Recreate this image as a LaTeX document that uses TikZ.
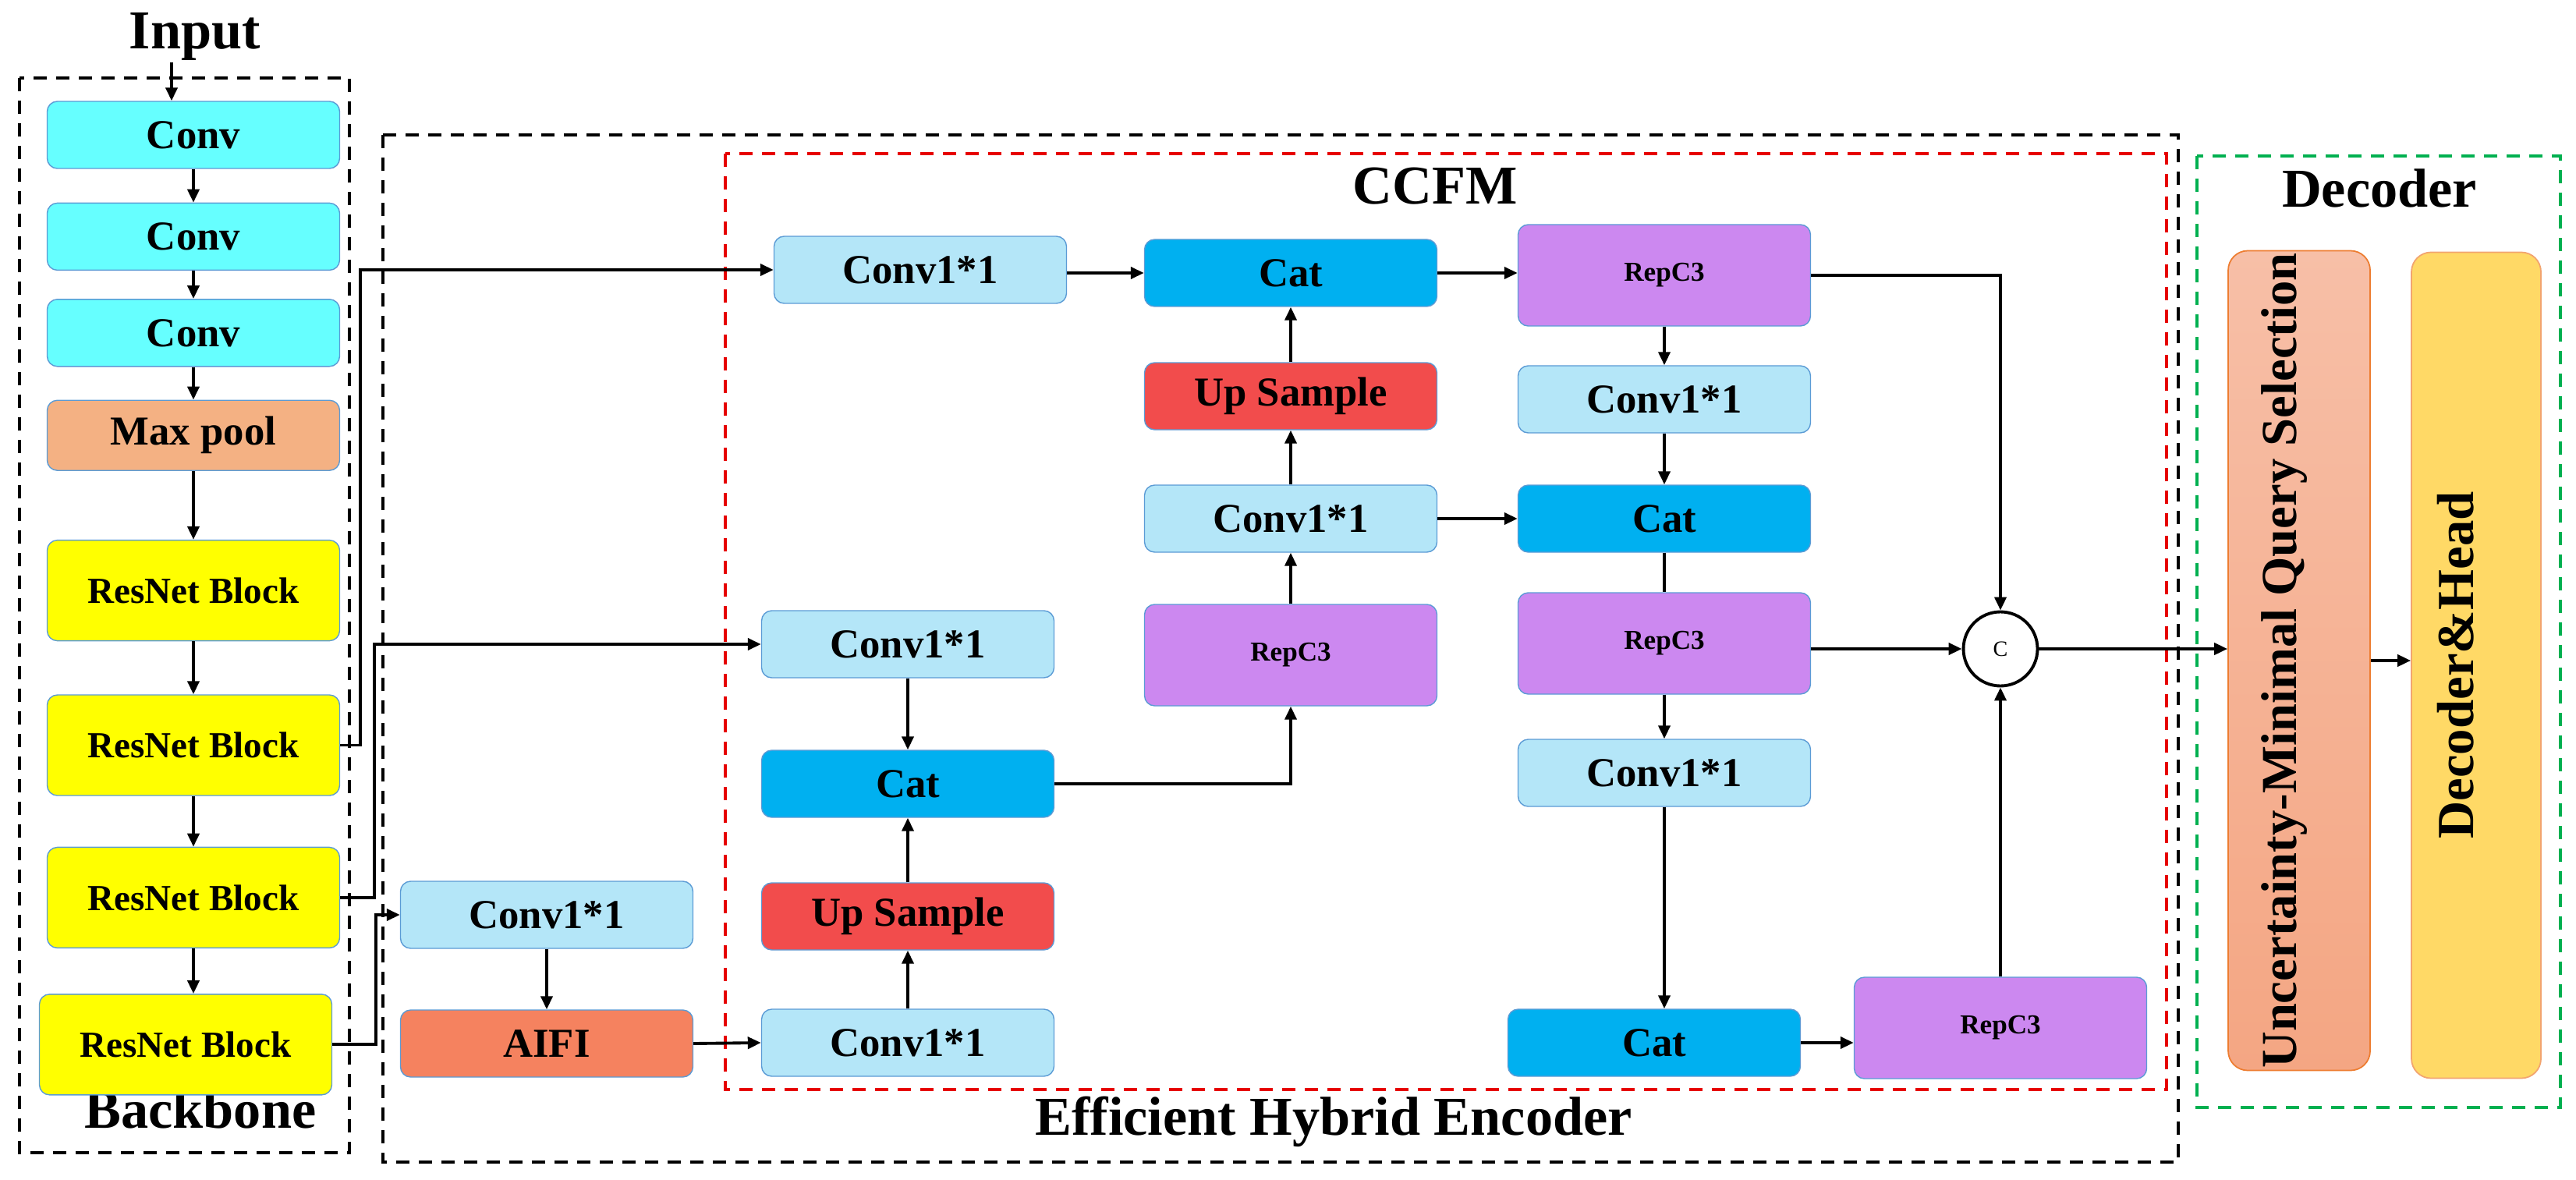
\documentclass[tikz,border=0pt]{standalone}
\usepackage{fontspec}
\setmainfont{Liberation Serif}
\usepackage{graphicx}
\usetikzlibrary{arrows.meta,positioning,calc}
\definecolor{ConvCyan}{RGB}{102,255,255}
\definecolor{PoolOrange}{RGB}{244,177,131}
\definecolor{ResYellow}{RGB}{255,255,0}
\definecolor{OneBlue}{RGB}{180,230,248}
\definecolor{CatBlue}{RGB}{0,176,240}
\definecolor{UpRed}{RGB}{242,76,76}
\definecolor{RepPurple}{RGB}{204,136,240}
\definecolor{AifiOrange}{RGB}{245,130,95}
\definecolor{EdgeBlue}{RGB}{91,155,213}
\definecolor{EdgeOrange}{RGB}{237,125,49}
\definecolor{UqTop}{RGB}{247,191,167}
\definecolor{UqBot}{RGB}{244,166,131}
\definecolor{DhGold}{RGB}{255,217,102}
\definecolor{DashRed}{RGB}{230,0,0}
\definecolor{DashGreen}{RGB}{0,176,80}
\newcommand{\uptext}[1]{\rotatebox{90}{\raisebox{0.4mm}[0pt][0pt]{#1}}}
\tikzset{
  blk/.style={draw=EdgeBlue,line width=0.4pt,rounded corners=0.13cm,minimum width=3.75cm,
    minimum height=0.86cm,inner sep=0pt,align=center,font=\bfseries\fontsize{15}{18}\selectfont},
  convbox/.style={blk,fill=ConvCyan},
  poolbox/.style={blk,fill=PoolOrange,minimum height=0.9cm},
  resbox/.style={blk,fill=ResYellow,minimum height=1.29cm,font=\bfseries\fontsize{13.4}{16}\selectfont},
  onebox/.style={blk,fill=OneBlue},
  catbox/.style={blk,fill=CatBlue},
  upbox/.style={blk,fill=UpRed},
  aifibox/.style={blk,fill=AifiOrange},
  repbox/.style={blk,fill=RepPurple,minimum height=1.3cm,font=\bfseries\fontsize{10}{12}\selectfont},
  uqbox/.style={draw=EdgeOrange,line width=0.5pt,rounded corners=0.25cm,top color=UqTop,
    bottom color=UqBot,minimum width=1.82cm,minimum height=10.51cm,inner sep=0pt,
    font=\bfseries\fontsize{18.4}{22}\selectfont},
  dhbox/.style={draw=EdgeOrange!70,line width=0.5pt,rounded corners=0.25cm,fill=DhGold,
    minimum width=1.66cm,minimum height=10.59cm,inner sep=0pt,
    font=\bfseries\fontsize{19}{22}\selectfont},
  sumnode/.style={draw,circle,line width=1.1pt,minimum size=0.95cm,inner sep=0pt,
    font=\fontsize{8}{9}\selectfont},
  heading/.style={font=\bfseries\fontsize{20}{24}\selectfont,anchor=base,inner sep=0pt},
  grpbox/.style={line width=1.1pt,dash pattern=on 0.17cm off 0.12cm},
  arrow/.style={-{Triangle[length=0.17cm,width=0.15cm]},line width=1.1pt},
  plainline/.style={line width=1.1pt}
}
\begin{document}
\begin{tikzpicture}
  \useasboundingbox (0,0) rectangle (33.03,-15.13);
  % dashed group frames
  \draw[grpbox] (0.25,-1.00) rectangle (4.48,-14.78);
  \draw[grpbox] (4.91,-1.73) rectangle (27.93,-14.90);
  \draw[grpbox,draw=DashRed] (9.30,-1.97) rectangle (27.78,-13.97);
  \draw[grpbox,draw=DashGreen,line width=1.3pt] (28.17,-2.00) rectangle (32.83,-14.20);

  % titles
  \node[heading] (tin) at (2.50,-0.63) {Input};
  \node[heading] (tbb) at (2.57,-14.46) {Backbone};
  \node[heading] (tcc) at (18.40,-2.62) {CCFM};
  \node[heading] (teh) at (17.10,-14.55) {Efficient Hybrid Encoder};
  \node[heading] (tde) at (30.51,-2.66) {Decoder};

  % backbone
  \node[convbox] (cv1) at (2.48,-1.73) {Conv};
  \node[convbox,below=0.43cm of cv1] (cv2) {Conv};
  \node[convbox,below=0.36cm of cv2] (cv3) {Conv};
  \node[poolbox,below=0.42cm of cv3] (mp) {Max pool};
  \node[resbox,below=0.88cm of mp] (rb1) {ResNet Block};
  \node[resbox,below=0.68cm of rb1] (rb2) {ResNet Block};
  \node[resbox,below=0.65cm of rb2] (rb3) {ResNet Block};
  \node[resbox,below=0.58cm of rb3,xshift=-1mm] (rb4) {ResNet Block};

  % encoder
  \node[onebox] (la) at (7.01,-11.73) {Conv1*1};
  \node[aifibox] (lb) at (7.01,-13.38) {AIFI};
  \node[onebox] (a1) at (11.80,-3.46) {Conv1*1};
  \node[onebox] (b1) at (11.64,-8.26) {Conv1*1};
  \node[catbox] (b2) at (11.64,-10.05) {Cat};
  \node[upbox] (b3) at (11.64,-11.75) {Up Sample};
  \node[onebox] (b4) at (11.64,-13.37) {Conv1*1};
  \node[catbox] (c1) at (16.55,-3.50) {Cat};
  \node[upbox] (c2) at (16.55,-5.08) {Up Sample};
  \node[onebox] (c3) at (16.55,-6.65) {Conv1*1};
  \node[repbox] (c4) at (16.55,-8.40) {RepC3};
  \node[repbox] (d1) at (21.34,-3.53) {RepC3};
  \node[onebox] (d2) at (21.34,-5.12) {Conv1*1};
  \node[catbox] (d3) at (21.34,-6.65) {Cat};
  \node[repbox] (d4) at (21.34,-8.25) {RepC3};
  \node[onebox] (d5) at (21.34,-9.91) {Conv1*1};
  \node[catbox] (d6) at (21.21,-13.37) {Cat};
  \node[repbox] (e1) at (25.65,-13.18) {RepC3};
  \node[sumnode] (cc) at (25.65,-8.32) {C};

  % decoder
  \node[uqbox] (uq) at (29.48,-8.47) {\uptext{Uncertainty-Minimal Query Selection}};
  \node[dhbox] (dh) at (31.75,-8.53) {\uptext{Decoder\&Head}};

  % backbone arrows
  \coordinate (inp) at (2.20,-0.80);
  \draw[arrow] (inp) -- (inp |- cv1.north);
  \foreach \a/\b in {cv1/cv2,cv2/cv3,cv3/mp,mp/rb1,rb1/rb2,rb2/rb3,rb3/rb4}
    \draw[arrow] (\a.south) -- (\a.south |- \b.north);

  % backbone to encoder
  \draw[arrow] (rb2.east) -- ++(0.26,0) |- (a1.west);
  \draw[arrow] (rb3.east) -- ++(0.44,0) |- (b1.west);
  \draw[arrow] (rb4.east) -- ++(0.56,0) |- (la.west);

  % encoder arrows
  \draw[arrow] (la.south) -- (lb.north);
  \draw[arrow] (lb.east) -- (b4.west);
  \draw[arrow] (b4.north) -- (b3.south);
  \draw[arrow] (b3.north) -- (b2.south);
  \draw[arrow] (b1.south) -- (b2.north);
  \draw[arrow] (b2.east) -| (c4.south);
  \foreach \a/\b in {c4/c3,c3/c2,c2/c1}
    \draw[arrow] (\a.north) -- (\b.south);
  \draw[arrow] (a1.east |- c1.west) -- (c1.west);
  \draw[arrow] (c1.east) -- (c1.east -| d1.west);
  \draw[arrow] (c3.east) -- (d3.west);
  \foreach \a/\b in {d1/d2,d2/d3,d4/d5}
    \draw[arrow] (\a.south) -- (\b.north);
  \draw[plainline] (d3.south) -- (d4.north);
  \draw[arrow] (d5.south) -- (d5.south |- d6.north);
  \draw[arrow] (d6.east) -- (d6.east -| e1.west);
  \draw[arrow] (e1.north) -- (cc.south);
  \draw[arrow] (d1.east) -| (cc.north);
  \draw[arrow] (cc.west -| d4.east) -- (cc.west);

  % to decoder
  \draw[arrow] (cc.east) -- (cc.east -| uq.west);
  \draw[arrow] (uq.east) -- (uq.east -| dh.west);
\end{tikzpicture}
\end{document}
